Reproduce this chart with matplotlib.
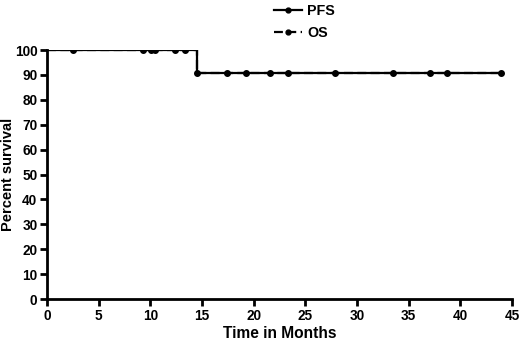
import matplotlib
matplotlib.use('Agg')
import matplotlib.pyplot as plt
from matplotlib.lines import Line2D

# --- DATA ---
# step curve (Kaplan-Meier), identical for PFS and OS
step_times = [0, 14.5, 44]
step_surv = [100, 90.9, 90.9]

# censor marks
censor_times = [2.5, 9.3, 10.1, 10.45, 12.4, 13.35, 14.55,
                17.4, 19.3, 21.6, 23.3, 27.9, 33.5, 37.1, 38.75, 43.9]
censor_surv = [100, 100, 100, 100, 100, 100, 90.9,
               90.9, 90.9, 90.9, 90.9, 90.9, 90.9, 90.9, 90.9, 90.9]

x_ticks = list(range(0, 46, 5))
y_ticks = list(range(0, 101, 10))

plt.rcParams['font.family'] = ['Liberation Sans', 'DejaVu Sans']
plt.rcParams['font.weight'] = 'bold'

fig = plt.figure(figsize=(5.2, 3.42), dpi=100)
ax = fig.add_axes([0.0904, 0.1257, 0.8942, 0.7281])

# PFS solid
ax.step(step_times, step_surv, where='post', color='black', lw=1.6, zorder=3)
ax.plot(censor_times, censor_surv, 'o', color='black', ms=4, zorder=4)
# OS dashed, overlapping
ax.step(step_times, step_surv, where='post', color='black', lw=1.6,
        linestyle=(0, (4, 2)), zorder=3)

ax.set_xlim(0, 45)
ax.set_ylim(0, 100)
ax.set_xticks(x_ticks)
ax.set_yticks(y_ticks)
ax.tick_params(direction='out', length=5, width=2, labelsize=9.8, pad=2)

for s in ['top', 'right']:
    ax.spines[s].set_visible(False)
for s in ['left', 'bottom']:
    ax.spines[s].set_linewidth(2)

ax.set_xlabel('Time in Months', fontsize=11.2, fontweight='bold', labelpad=2)
ax.set_ylabel('Percent survival', fontsize=10.5, fontweight='bold')
ax.yaxis.set_label_coords(-0.069, 0.5)

handles = [
    Line2D([0], [0], color='black', lw=1.6, marker='o', ms=3.5),
    Line2D([0], [0], color='black', lw=1.6, linestyle=(0, (4, 2)), marker='o', ms=3.5),
]
fig.legend(handles, ['PFS', 'OS'], loc='upper left', bbox_to_anchor=(0.503, 1.025),
           frameon=False, fontsize=10.3, handlelength=1.9, handletextpad=0.4,
           labelspacing=0.55)

fig.savefig('out.png', dpi=100)
